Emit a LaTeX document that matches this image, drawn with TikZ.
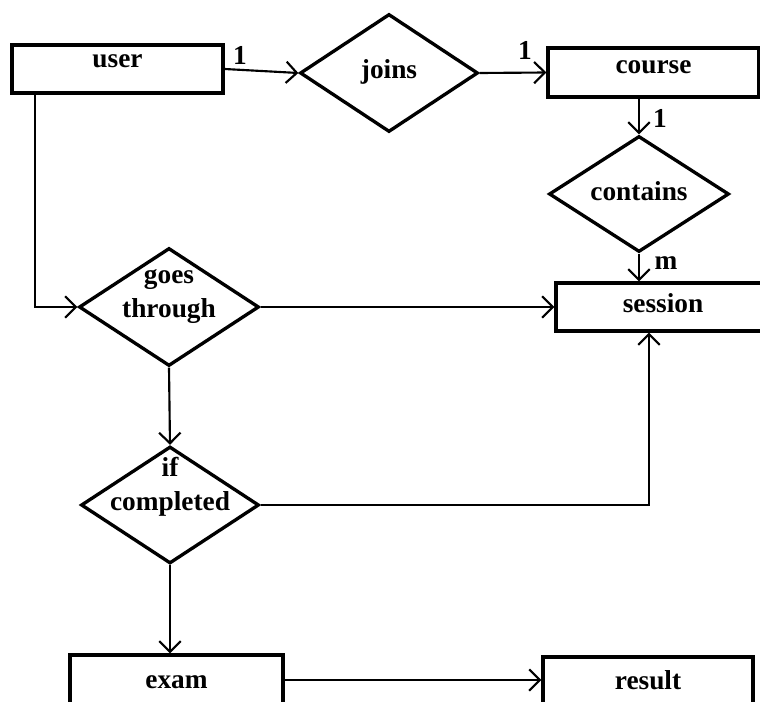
\documentclass[tikz,border=0pt]{standalone}
\usepackage{fontspec}
\setmainfont{Liberation Serif}
\usetikzlibrary{shapes.geometric,arrows.meta}
\newcommand{\px}{0.75pt}
\begin{document}
\begin{tikzpicture}[x=0.75pt,y=-0.75pt,
  font=\fontsize{20.5}{25.5}\selectfont\bfseries,
  entity/.style={draw, rectangle, line width=2.5pt, inner sep=0pt},
  relation/.style={draw, diamond, line width=2.5pt, inner sep=0pt,
    minimum width=180*\px, minimum height=118*\px},
  conn/.style={line width=1.6pt, -{Straight Barb[length=8pt,width=16pt]}},
  card/.style={inner sep=0pt}]
  \useasboundingbox (0,0) rectangle (760,702);
  \clip (0,0) rectangle (760,702);

  % entities
  \node[entity, minimum width=211*\px, minimum height=48*\px,
    label={[yshift=8*\px]center:user}] (user) at (117.5,69) {};
  \node[entity, minimum width=211*\px, minimum height=49*\px,
    label={[yshift=5.7*\px]center:course}] (course) at (653.5,72.5) {};
  \node[entity, minimum width=214*\px, minimum height=48*\px,
    label={[yshift=4.3*\px]center:session}] (session) at (663,307) {};
  \node[entity, minimum width=213*\px, minimum height=50*\px,
    label={[yshift=-2*\px]center:exam}] (exam) at (176.5,680) {};
  \node[entity, minimum width=210*\px, minimum height=48*\px,
    label={[yshift=1*\px]center:result}] (result) at (648,681) {};

  % relations
  \node[relation, minimum width=178*\px,
    label={[yshift=1*\px]center:joins}] (joins) at (389,73) {};
  \node[relation, minimum height=116*\px,
    label={[yshift=3*\px]center:contains}] (contains) at (639,194) {};
  \node[relation,
    label={[yshift=10.5*\px, align=center]center:goes\\through}] (goes) at (169,307) {};
  \node[relation, minimum width=178*\px, minimum height=117*\px,
    label={[yshift=18*\px, align=center]center:if\\completed}] (ifc) at (170,505) {};

  % cardinalities
  \node[card] (c1) at (240,55) {1};
  \node[card] (c2) at (525,50) {1};
  \node[card] (c3) at (660,118) {1};
  \node[card] (cm) at (666,263) {m};

  % connectors
  \coordinate (ubend) at (35,307);
  \coordinate (sbend) at (649,505);
  \draw[conn] (user.east) -- (joins.west);
  \draw[conn] (joins.east) -- (course.west);
  \draw[conn] (course.south -| contains.north) -- (contains.north);
  \draw[conn] (contains.south) -- (contains.south |- session.north);
  \draw[conn] (user.south -| ubend) -- (ubend) -- (goes.west);
  \draw[conn] (goes.east) -- (goes.east -| session.west);
  \draw[conn] (goes.south) -- (ifc.north);
  \draw[conn] (ifc.east) -- (sbend) -- (sbend |- session.south);
  \draw[conn] (ifc.south) -- (ifc.south |- exam.north);
  \draw[conn] (exam.east) -- (exam.east -| result.west);
\end{tikzpicture}
\end{document}
